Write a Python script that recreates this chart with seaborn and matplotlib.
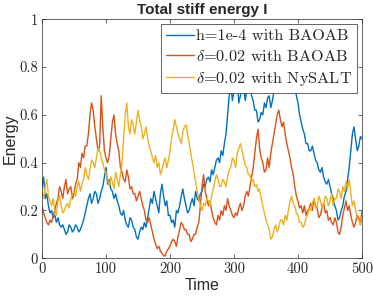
import numpy as np
import pandas as pd
import matplotlib
matplotlib.use("Agg")
import matplotlib.pyplot as plt
import seaborn as sns

# values, one every 2.5 time units (0 .. 500)
time = np.linspace(0, 500, 201)

blue_h1e4 = [
    0.30, 0.34, 0.25, 0.27, 0.22, 0.19, 0.20, 0.17, 0.18, 0.15,
    0.17, 0.14, 0.13, 0.14, 0.12, 0.10, 0.11, 0.14, 0.13, 0.11,
    0.12, 0.14, 0.13, 0.11, 0.12, 0.14, 0.16, 0.19, 0.22, 0.25,
    0.27, 0.23, 0.25, 0.28, 0.27, 0.23, 0.25, 0.28, 0.30, 0.34,
    0.38, 0.31, 0.33, 0.29, 0.28, 0.25, 0.27, 0.24, 0.22, 0.19,
    0.18, 0.20, 0.16, 0.14, 0.13, 0.17, 0.16, 0.13, 0.12, 0.09,
    0.08, 0.11, 0.13, 0.12, 0.15, 0.13, 0.17, 0.21, 0.25, 0.23,
    0.28, 0.25, 0.22, 0.19, 0.27, 0.31, 0.26, 0.22, 0.24, 0.18,
    0.18, 0.15, 0.16, 0.13, 0.20, 0.19, 0.22, 0.26, 0.29, 0.25,
    0.22, 0.19, 0.20, 0.23, 0.25, 0.22, 0.28, 0.25, 0.24, 0.27,
    0.28, 0.31, 0.30, 0.33, 0.34, 0.32, 0.37, 0.35, 0.38, 0.41,
    0.42, 0.40, 0.45, 0.43, 0.48, 0.52, 0.60, 0.68, 0.72, 0.66,
    0.70, 0.74, 0.75, 0.65, 0.68, 0.72, 0.72, 0.66, 0.70, 0.74,
    0.73, 0.68, 0.66, 0.62, 0.62, 0.57, 0.58, 0.61, 0.60, 0.65,
    0.63, 0.67, 0.68, 0.63, 0.66, 0.70, 0.72, 0.75, 0.76, 0.72,
    0.74, 0.79, 0.78, 0.74, 0.75, 0.80, 0.80, 0.75, 0.72, 0.68,
    0.65, 0.60, 0.57, 0.54, 0.52, 0.48, 0.48, 0.45, 0.45, 0.47,
    0.44, 0.41, 0.40, 0.37, 0.36, 0.38, 0.34, 0.32, 0.31, 0.33,
    0.30, 0.27, 0.25, 0.22, 0.20, 0.16, 0.17, 0.20, 0.22, 0.26,
    0.28, 0.33, 0.38, 0.45, 0.52, 0.55, 0.50, 0.45, 0.47, 0.51,
    0.50]

red_d002 = [
    0.22, 0.19, 0.17, 0.15, 0.14, 0.16, 0.15, 0.18, 0.20, 0.23,
    0.25, 0.30, 0.28, 0.25, 0.30, 0.33, 0.27, 0.29, 0.30, 0.25,
    0.27, 0.31, 0.33, 0.40, 0.38, 0.44, 0.42, 0.47, 0.47, 0.52,
    0.60, 0.65, 0.62, 0.55, 0.50, 0.45, 0.47, 0.68, 0.55, 0.45,
    0.42, 0.40, 0.43, 0.50, 0.57, 0.60, 0.52, 0.48, 0.45, 0.38,
    0.36, 0.33, 0.32, 0.37, 0.34, 0.29, 0.30, 0.27, 0.27, 0.24,
    0.26, 0.28, 0.25, 0.22, 0.20, 0.16, 0.15, 0.17, 0.14, 0.11,
    0.08, 0.06, 0.04, 0.05, 0.03, 0.02, 0.01, 0.01, 0.03, 0.04,
    0.05, 0.07, 0.08, 0.07, 0.05, 0.09, 0.12, 0.15, 0.14, 0.12,
    0.12, 0.10, 0.10, 0.07, 0.08, 0.10, 0.10, 0.13, 0.15, 0.22,
    0.30, 0.35, 0.28, 0.25, 0.22, 0.24, 0.20, 0.17, 0.15, 0.14,
    0.18, 0.16, 0.20, 0.18, 0.22, 0.20, 0.25, 0.22, 0.20, 0.18,
    0.17, 0.19, 0.18, 0.21, 0.23, 0.20, 0.22, 0.26, 0.28, 0.26,
    0.30, 0.34, 0.38, 0.44, 0.50, 0.54, 0.46, 0.42, 0.40, 0.36,
    0.37, 0.42, 0.38, 0.44, 0.48, 0.52, 0.56, 0.60, 0.62, 0.58,
    0.55, 0.57, 0.52, 0.48, 0.45, 0.42, 0.38, 0.35, 0.30, 0.26,
    0.24, 0.21, 0.22, 0.19, 0.22, 0.18, 0.20, 0.21, 0.23, 0.20,
    0.25, 0.22, 0.21, 0.17, 0.18, 0.21, 0.23, 0.19, 0.20, 0.16,
    0.17, 0.15, 0.14, 0.17, 0.15, 0.11, 0.10, 0.13, 0.18, 0.21,
    0.24, 0.20, 0.22, 0.18, 0.15, 0.13, 0.15, 0.18, 0.17, 0.14,
    0.20]

yellow_nysalt = [
    0.28, 0.25, 0.30, 0.33, 0.26, 0.24, 0.22, 0.25, 0.20, 0.18,
    0.24, 0.26, 0.22, 0.19, 0.20, 0.22, 0.23, 0.21, 0.25, 0.27,
    0.28, 0.26, 0.30, 0.32, 0.28, 0.31, 0.33, 0.38, 0.35, 0.33,
    0.37, 0.41, 0.40, 0.38, 0.42, 0.46, 0.45, 0.42, 0.40, 0.37,
    0.36, 0.33, 0.30, 0.34, 0.32, 0.29, 0.36, 0.33, 0.30, 0.35,
    0.40, 0.50, 0.60, 0.65, 0.55, 0.52, 0.58, 0.56, 0.52, 0.57,
    0.62, 0.58, 0.55, 0.50, 0.52, 0.55, 0.50, 0.47, 0.45, 0.42,
    0.40, 0.43, 0.38, 0.40, 0.35, 0.37, 0.40, 0.42, 0.38, 0.41,
    0.45, 0.50, 0.54, 0.58, 0.55, 0.52, 0.50, 0.48, 0.53, 0.55,
    0.56, 0.52, 0.48, 0.44, 0.40, 0.36, 0.32, 0.28, 0.25, 0.22,
    0.20, 0.23, 0.22, 0.25, 0.24, 0.22, 0.26, 0.29, 0.32, 0.35,
    0.33, 0.30, 0.30, 0.33, 0.32, 0.30, 0.34, 0.37, 0.38, 0.42,
    0.41, 0.38, 0.44, 0.46, 0.48, 0.45, 0.42, 0.39, 0.38, 0.35,
    0.35, 0.32, 0.33, 0.30, 0.31, 0.28, 0.29, 0.25, 0.22, 0.19,
    0.16, 0.14, 0.12, 0.08, 0.09, 0.12, 0.14, 0.11, 0.13, 0.16,
    0.16, 0.14, 0.18, 0.16, 0.20, 0.24, 0.26, 0.23, 0.22, 0.19,
    0.18, 0.15, 0.15, 0.13, 0.14, 0.17, 0.18, 0.21, 0.20, 0.23,
    0.25, 0.21, 0.22, 0.26, 0.24, 0.21, 0.22, 0.26, 0.25, 0.22,
    0.24, 0.27, 0.22, 0.25, 0.25, 0.29, 0.28, 0.25, 0.30, 0.28,
    0.32, 0.29, 0.33, 0.27, 0.22, 0.24, 0.20, 0.17, 0.16, 0.14,
    0.17]

labels = ["h=1e-4 with BAOAB",
          r"$\delta$=0.02 with BAOAB",
          r"$\delta$=0.02 with NySALT"]
colors = ["#0072BD", "#D95319", "#EDB120"]

df = pd.concat([
    pd.DataFrame({"Time": time, "Energy": vals, "run": lab})
    for vals, lab in zip([blue_h1e4, red_d002, yellow_nysalt], labels)
])

sns.set_style("ticks")
plt.rcParams["mathtext.fontset"] = "cm"
plt.rcParams["font.family"] = ["DejaVu Sans"]

fig = plt.figure(figsize=(3.74, 3.0), dpi=100)
ax = fig.add_axes([0.1123, 0.139, 0.8556, 0.7967])

sns.lineplot(data=df, x="Time", y="Energy", hue="run", palette=colors,
             estimator=None, linewidth=1.0, ax=ax)

ax.set_xlim(0, 500)
ax.set_ylim(0, 1)
ax.set_xticks(range(0, 501, 100))
ax.set_yticks([0, 0.2, 0.4, 0.6, 0.8, 1])
ax.set_yticklabels(["0", "0.2", "0.4", "0.6", "0.8", "1"])
ax.tick_params(direction="in", top=True, right=True, length=3, width=0.5,
               colors="#262626", labelsize=10.5, pad=3)
for lab in ax.get_xticklabels() + ax.get_yticklabels():
    lab.set_fontfamily("cmr10")
    lab.set_color("#262626")
for sp in ax.spines.values():
    sp.set_linewidth(0.5)
    sp.set_color("#262626")

ax.set_xlabel("Time", fontsize=11.5, family="Liberation Sans", labelpad=1,
              color="#262626")
ax.set_ylabel("Energy", fontsize=11.5, family="Liberation Sans", labelpad=1,
              color="#262626")
ax.set_title("Total stiff energy I", fontsize=11, fontweight="bold",
             family="Liberation Sans", pad=4)

leg = ax.legend(loc="upper right", frameon=True, fancybox=False,
                framealpha=1, edgecolor="#262626", borderaxespad=0.3,
                handlelength=1.7, handletextpad=0.15, borderpad=0.3,
                labelspacing=0.35, prop={"family": "cmr10", "size": 11.7})
leg.get_frame().set_linewidth(0.5)

fig.savefig("out.png", dpi=100)
